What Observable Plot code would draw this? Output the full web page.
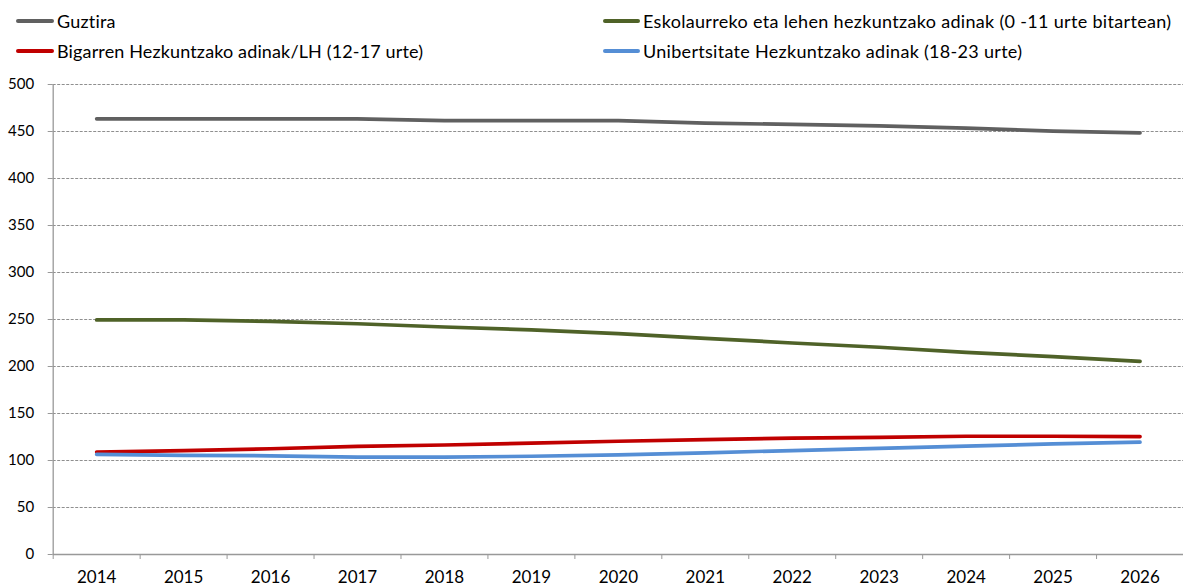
<!DOCTYPE html>
<html>
<head>
<meta charset="utf-8">
<script src="https://cdn.jsdelivr.net/npm/d3@7"></script>
<script src="https://cdn.jsdelivr.net/npm/@observablehq/plot@0.6"></script>
<style>
  html, body { margin: 0; padding: 0; background: #fff; }
  body { width: 1183px; height: 587px; overflow: hidden; font-family: Lato, "Open Sans", sans-serif; }
  #legend { position: relative; width: 1183px; height: 66px; }
  .item { position: absolute; display: flex; align-items: center; font-size: 18px; color: #000; white-space: nowrap; height: 20px; }
  .swatch { display: inline-block; height: 4px; border-radius: 2px; margin-right: 3px; }
  #chart svg { display: block; }
</style>
</head>
<body>
<div id="legend"></div>
<div id="chart"></div>
<script>
// ---- data ----
const years = [2014, 2015, 2016, 2017, 2018, 2019, 2020, 2021, 2022, 2023, 2024, 2025, 2026];
const seriesNames = [
  "Guztira",
  "Eskolaurreko eta lehen hezkuntzako adinak (0 -11 urte bitartean)",
  "Bigarren Hezkuntzako adinak/LH (12-17 urte)",
  "Unibertsitate Hezkuntzako adinak (18-23 urte)"
];
const seriesColors = ["#606060", "#4f6228", "#c00000", "#558ed5"];
const guztira      = [463.5, 463.5, 463.5, 463.5, 461.5, 461.5, 461.5, 459, 457.5, 456, 453.5, 450.5, 448.5];
const eskolaurreko = [249.5, 249.5, 248, 245.5, 242, 239, 235, 230, 225, 220.5, 215, 210.5, 205.5];
const bigarren     = [109, 110.5, 112.5, 115, 116.5, 118.5, 120.5, 122.3, 123.8, 124.5, 125.8, 125.8, 125.5];
const unibertsitate= [106.5, 105.5, 105, 103.5, 103.5, 104.5, 106, 108.2, 110.6, 113, 115.2, 117.7, 119.5];
const yTicks = [0, 50, 100, 150, 200, 250, 300, 350, 400, 450, 500];

const seriesValues = [guztira, eskolaurreko, bigarren, unibertsitate];
const data = [];
seriesNames.forEach((name, i) => {
  years.forEach((yr, j) => data.push({series: name, year: yr, value: seriesValues[i][j]}));
});

// ---- legend ----
const legendPos = [
  {left: 16, top: 11, sw: 38, ls: 0.2},
  {left: 603, top: 11, sw: 37, ls: 0.32},
  {left: 16, top: 41, sw: 38, ls: 0.14},
  {left: 603, top: 41, sw: 37, ls: 0.3}
];
const legend = document.getElementById("legend");
seriesNames.forEach((name, i) => {
  const it = document.createElement("div");
  it.className = "item";
  it.style.left = legendPos[i].left + "px";
  it.style.top = legendPos[i].top + "px";
  it.style.letterSpacing = legendPos[i].ls + "px";
  const sw = document.createElement("span");
  sw.className = "swatch";
  sw.style.width = legendPos[i].sw + "px";
  sw.style.background = seriesColors[i];
  it.appendChild(sw);
  it.appendChild(document.createTextNode(name));
  legend.appendChild(it);
});

// ---- chart ----
const boundaries = d3.range(years[0] - 0.5, years[years.length - 1], 1);
const chart = Plot.plot({
  width: 1183,
  height: 521,
  marginLeft: 52.7,
  marginRight: 0,
  marginTop: 18,
  marginBottom: 33,
  style: {fontFamily: "Lato, 'Open Sans', sans-serif", color: "#000", background: "#fff"},
  x: {type: "linear", domain: [years[0] - 0.5, years[years.length - 1] + 0.5], axis: null},
  y: {domain: [0, 500], axis: null},
  color: {domain: seriesNames, range: seriesColors},
  marks: [
    Plot.gridY(yTicks.filter(d => d > 0), {stroke: "#8f8f8f", strokeOpacity: 1, strokeDasharray: "3,1.5", strokeWidth: 1}),
    Plot.axisY(yTicks, {tickSize: 5, tickPadding: 14, fontSize: 15, stroke: "#999", color: "#000", tickFormat: d => String(d), label: null}),
    Plot.ruleX([years[0] - 0.5], {stroke: "#999", strokeWidth: 1.3}),
    Plot.ruleY([0], {stroke: "#999", strokeWidth: 1.3}),
    Plot.axisX(boundaries, {tickSize: 5, tickFormat: () => "", stroke: "#999", label: null}),
    Plot.axisX(years, {tickSize: 0, tickPadding: 16, fontSize: 17, tickFormat: d => String(d), label: null}),
    Plot.line(data, {x: "year", y: "value", z: "series", stroke: "series", strokeWidth: 3.7, strokeLinecap: "round"})
  ]
});
document.getElementById("chart").appendChild(chart);
</script>
</body>
</html>
